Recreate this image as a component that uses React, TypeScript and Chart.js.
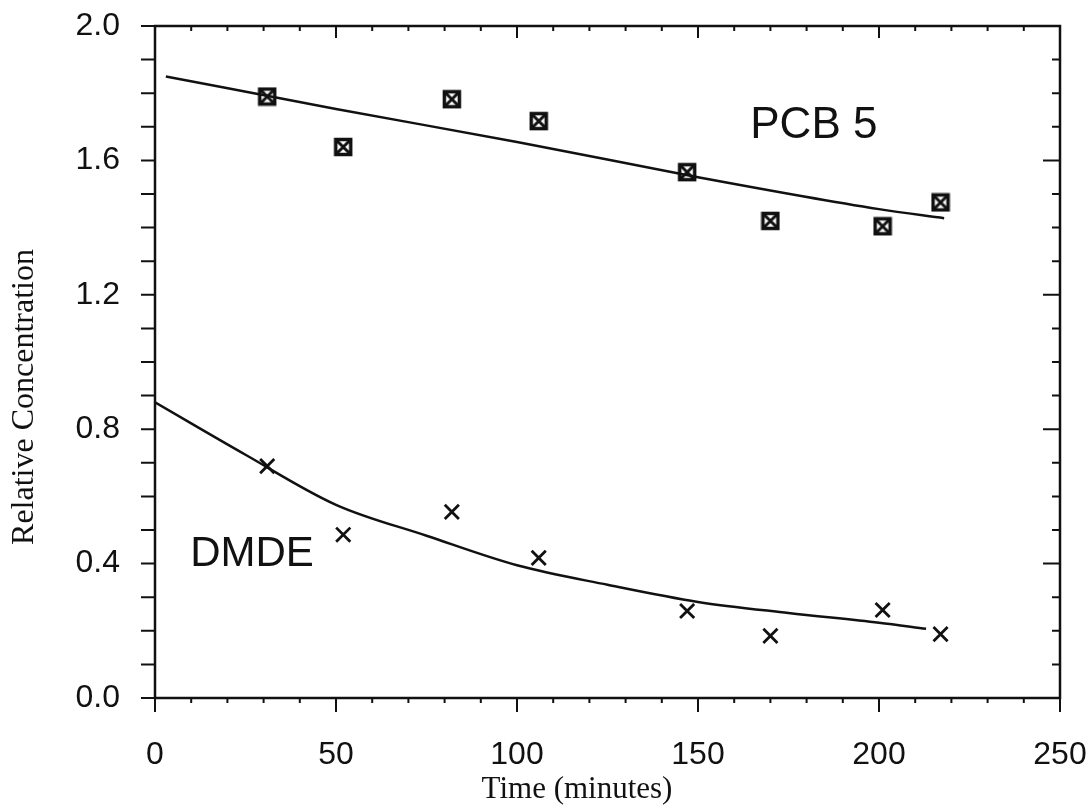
import React, { useEffect, useRef } from "react";
import { Chart, registerables } from "chart.js";

Chart.register(...registerables);

// ---- data ----
const sampleTimes = [31, 52, 82, 106, 147, 170, 201, 217];
const pcb5Values = [1.79, 1.64, 1.782, 1.717, 1.565, 1.42, 1.404, 1.475];
const dmdeValues = [0.69, 0.486, 0.554, 0.417, 0.259, 0.185, 0.262, 0.19];

const pcbFitTimes = [3, 50, 100, 150, 200, 218];
const pcbFitValues = [1.85, 1.753, 1.655, 1.55, 1.455, 1.428];

const dmdeFitTimes = [0, 25, 50, 75, 100, 125, 150, 175, 200, 213];
const dmdeFitValues = [0.88, 0.724, 0.575, 0.483, 0.395, 0.337, 0.286, 0.253, 0.224, 0.206];

const xMajorTicks = [0, 50, 100, 150, 200, 250];
const yMajorTicks = [0, 0.4, 0.8, 1.2, 1.6, 2.0];

const seriesLabels = ["PCB 5", "DMDE"];
const xTitle = "Time (minutes)";
const yTitle = "Relative Concentration";

const INK = "#111111";

function makeBoxCross(): HTMLCanvasElement {
  const c = document.createElement("canvas");
  c.width = 20;
  c.height = 20;
  const g = c.getContext("2d")!;
  g.strokeStyle = INK;
  g.lineWidth = 3.5;
  g.strokeRect(2.5, 2.5, 15, 15);
  g.lineWidth = 3;
  g.beginPath();
  g.moveTo(3, 3);
  g.lineTo(17, 17);
  g.moveTo(17, 3);
  g.lineTo(3, 17);
  g.stroke();
  return c;
}

const isMajorX = (v: number) => xMajorTicks.some((m) => Math.abs(m - v) < 1e-6);
const isMajorY = (v: number) => yMajorTicks.some((m) => Math.abs(m - v) < 1e-6);

const zeroPad = (s: any) => {
  s.paddingTop = 0;
  s.paddingBottom = 0;
  s.paddingLeft = 0;
  s.paddingRight = 0;
};

const framePlugin = {
  id: "frameAndText",
  afterDatasetsDraw(chart: any) {
    const { ctx, chartArea, scales } = chart;
    const { left, right, top, bottom } = chartArea;
    const x = scales.x;
    const y = scales.y;
    ctx.save();
    ctx.strokeStyle = INK;
    ctx.lineWidth = 2.5;
    ctx.strokeRect(left, top, right - left, bottom - top);

    ctx.lineWidth = 2;
    ctx.beginPath();
    x.ticks.forEach((t: any) => {
      const px = x.getPixelForValue(t.value);
      const major = isMajorX(t.value);
      ctx.moveTo(px, bottom);
      ctx.lineTo(px, bottom + (major ? 14 : 5));
      ctx.moveTo(px, top);
      ctx.lineTo(px, top + (major ? 12 : 5));
    });
    y.ticks.forEach((t: any) => {
      const py = y.getPixelForValue(t.value);
      const major = isMajorY(t.value);
      ctx.moveTo(left, py);
      ctx.lineTo(left - 14, py);
      ctx.moveTo(right, py);
      ctx.lineTo(right - (major ? 17 : 8), py);
    });
    ctx.stroke();

    // series labels
    ctx.fillStyle = INK;
    ctx.textAlign = "center";
    ctx.textBaseline = "middle";
    ctx.font = "44px 'Liberation Sans', Arial, sans-serif";
    ctx.fillText(seriesLabels[0], x.getPixelForValue(182), y.getPixelForValue(1.702));
    ctx.font = "42px 'Liberation Sans', Arial, sans-serif";
    ctx.fillText(seriesLabels[1], x.getPixelForValue(26.8), y.getPixelForValue(0.426));

    // axis titles
    ctx.font = "31px 'Liberation Serif', 'Times New Roman', serif";
    ctx.fillText(xTitle, 577, 790);
    ctx.save();
    ctx.translate(25, 397);
    ctx.rotate(-Math.PI / 2);
    ctx.font = "32px 'Liberation Serif', 'Times New Roman', serif";
    ctx.fillText(yTitle, 0, 0);
    ctx.restore();

    ctx.restore();
  },
};

export default function App() {
  const ref = useRef<HTMLCanvasElement | null>(null);

  useEffect(() => {
    if (!ref.current) return;
    const boxCross = makeBoxCross();
    const chart = new Chart(ref.current, {
      type: "scatter",
      data: {
        datasets: [
          {
            label: "PCB 5 fit",
            data: pcbFitTimes.map((t, i) => ({ x: t, y: pcbFitValues[i] })),
            showLine: true,
            borderColor: INK,
            borderWidth: 2.5,
            pointRadius: 0,
            tension: 0.4,
            cubicInterpolationMode: "monotone",
          },
          {
            label: "DMDE fit",
            data: dmdeFitTimes.map((t, i) => ({ x: t, y: dmdeFitValues[i] })),
            showLine: true,
            borderColor: INK,
            borderWidth: 2.5,
            pointRadius: 0,
            tension: 0.4,
            cubicInterpolationMode: "monotone",
          },
          {
            label: "PCB 5",
            data: sampleTimes.map((t, i) => ({ x: t, y: pcb5Values[i] })),
            pointStyle: boxCross as any,
            pointRadius: 10,
            borderColor: INK,
            backgroundColor: INK,
          },
          {
            label: "DMDE",
            data: sampleTimes.map((t, i) => ({ x: t, y: dmdeValues[i] })),
            pointStyle: "crossRot",
            pointRadius: 10,
            borderWidth: 2.8,
            borderColor: INK,
            backgroundColor: INK,
          },
        ],
      },
      options: {
        animation: false,
        responsive: false,
        maintainAspectRatio: false,
        layout: { padding: { top: 26, right: 32, left: 0, bottom: 0 } },
        plugins: {
          legend: { display: false },
          tooltip: { enabled: false },
        },
        scales: {
          x: {
            type: "linear",
            min: 0,
            max: 250,
            afterFit: (s: any) => {
              s.height = 110;
              zeroPad(s);
            },
            grid: { display: false },
            border: { display: false },
            ticks: {
              stepSize: 10,
              autoSkip: false,
              maxRotation: 0,
              padding: 30,
              color: INK,
              font: { family: "'Liberation Sans', Arial, sans-serif", size: 32 },
              callback: (v: any) => (isMajorX(Number(v)) ? String(v) : ""),
            },
          },
          y: {
            type: "linear",
            min: 0,
            max: 2,
            afterFit: (s: any) => {
              s.width = 155;
              zeroPad(s);
            },
            grid: { display: false },
            border: { display: false },
            ticks: {
              stepSize: 0.1,
              autoSkip: false,
              padding: 27,
              color: INK,
              font: { family: "'Liberation Sans', Arial, sans-serif", size: 32 },
              callback: (v: any) => (isMajorY(Number(v)) ? Number(v).toFixed(1) : ""),
            },
          },
        },
      },
      plugins: [framePlugin],
    });
    return () => chart.destroy();
  }, []);

  return (
    <div style={{ position: "absolute", left: 0, top: 0, width: 1092, height: 808, background: "#fff" }}>
      <canvas ref={ref} width={1092} height={808} style={{ display: "block" }} />
    </div>
  );
}
